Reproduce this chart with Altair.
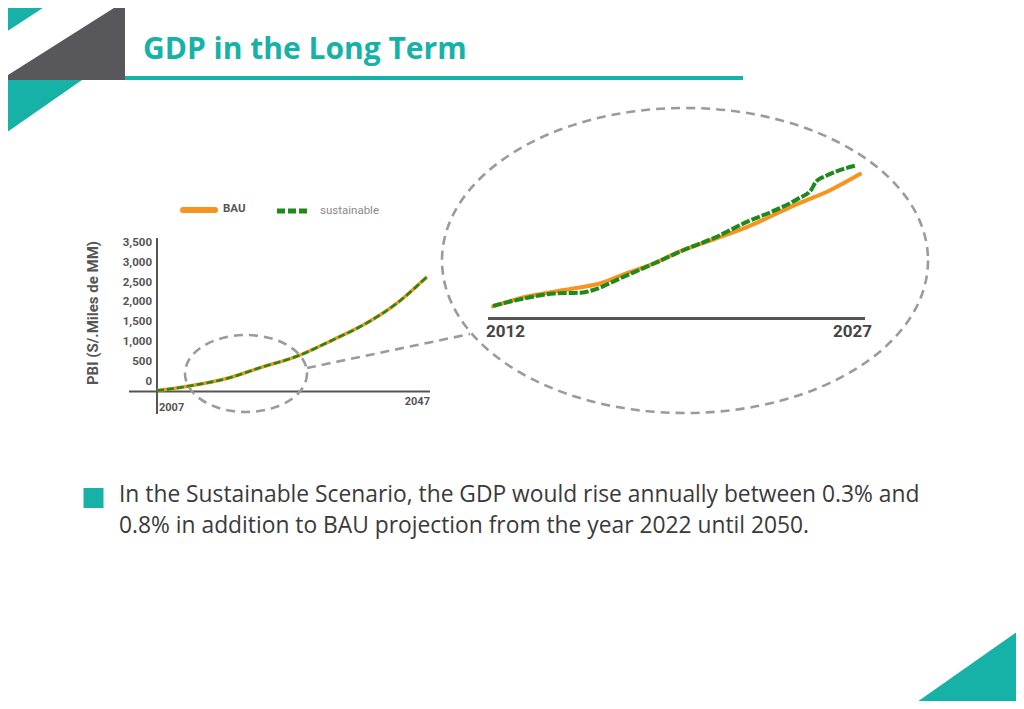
import altair as alt
import pandas as pd

# ---------------- data ----------------
small_years = [2007, 2012, 2018, 2022, 2028, 2033, 2038, 2042.5, 2047]
small_bau = [10, 130, 345, 570, 890, 1280, 1700, 2200, 2870]
small_sus = [10, 130, 345, 570, 890, 1280, 1700, 2200, 2870]

y_ticks = [0, 500, 1000, 1500, 2000, 2500, 3000, 3500]
y_tick_labels = ["0", "500", "1,000", "1,500", "2,000", "2,500", "3,000", "3,500"]

zoom_bau_years = [2012.0, 2013.1, 2014.5, 2015.6, 2016.4, 2017.5, 2018.6, 2019.6,
                  2021.0, 2022.4, 2024.5, 2025.8, 2027.0]
zoom_bau = [150, 196, 233, 258, 281, 340, 394, 459, 528, 600, 732, 808, 898]
zoom_sus_years = [2012.0, 2013.1, 2014.5, 2015.6, 2016.1, 2017.2, 2018.6, 2019.8,
                  2021.0, 2022.4, 2023.7, 2024.5, 2025.0, 2025.2, 2025.6, 2026.2, 2026.8]
zoom_sus = [153, 190, 223, 228, 243, 309, 394, 469, 535, 629, 704, 761, 808, 855, 887,
            921, 945]

title_text = "GDP in the Long Term"
legend_labels = ["BAU", "sustainable"]
y_title = "PBI (S/.Miles de MM)"
body_lines = [
    "In the Sustainable Scenario, the GDP would rise annually between 0.3% and",
    "0.8% in addition to BAU projection from the year 2022 until 2050.",
]

# ---------------- styles ----------------
TEAL = "#17B2A7"
GRAY_TRI = "#58575C"
ORANGE = "#F7941D"
GREEN = "#1E8A1E"
AXIS = "#555555"
DASHGRAY = "#9B9B9B"
W, H = 1008, 693

layers = []


def one(v="x"):
    return pd.DataFrame({"t": [v]})


def text(label, x, y, **kw):
    return alt.Chart(one(label)).mark_text(**kw).encode(
        x=alt.value(x), y=alt.value(y), text="t:N")


def rule(x1, y1, x2, y2, **kw):
    return alt.Chart(one()).mark_rule(**kw).encode(
        x=alt.value(x1), y=alt.value(y1), x2=alt.value(x2), y2=alt.value(y2))


def tri(px, top, bot, color):
    df = pd.DataFrame({"px": px, "top": top, "bot": bot})
    return alt.Chart(df).mark_area(color=color, opacity=1).encode(
        x=alt.X("px:Q", scale=None), y=alt.Y("top:Q", scale=None), y2="bot:Q")


def ellipse(cx, cy, rx, ry):
    r = ry / rx
    k = 0.5523
    p = (f"M1,0 C1,{k*r:.4f} {k},{r:.4f} 0,{r:.4f} "
         f"C{-k},{r:.4f} -1,{k*r:.4f} -1,0 "
         f"C-1,{-k*r:.4f} {-k},{-r:.4f} 0,{-r:.4f} "
         f"C{k},{-r:.4f} 1,{-k*r:.4f} 1,0 Z")
    return alt.Chart(one()).mark_point(
        shape=p, size=(2 * rx) ** 2, filled=False, stroke=DASHGRAY,
        strokeWidth=2.6, strokeDash=[9, 6], opacity=1).encode(
        x=alt.value(cx), y=alt.value(cy))


# ---------------- slide decorations ----------------
layers.append(tri([-8, 47], [-8, -8], [28, -8], TEAL))
layers.append(tri([-8, 117], [72, -7], [72, 72], GRAY_TRI))
layers.append(tri([-8, 74], [72, 72], [129, 72], TEAL))
layers.append(tri([899, 1016], [701, 619], [701, 701], TEAL))

layers.append(text(title_text, 135, 51, font="Open Sans", fontSize=30,
                   fontWeight="bold", color=TEAL, align="left", baseline="alphabetic"))
layers.append(rule(117, 70, 735, 70, color=TEAL, strokeWidth=4))

# ---------------- legend ----------------
layers.append(rule(175, 202, 207, 202, color=ORANGE, strokeWidth=6, strokeCap="round"))
layers.append(text(legend_labels[0], 215, 201, font="Roboto", fontSize=11.5,
                   fontWeight="bold", color=AXIS, align="left", baseline="middle"))
layers.append(rule(269, 203, 299, 203, color=GREEN, strokeWidth=5, strokeDash=[8, 3]))
layers.append(text(legend_labels[1], 312, 203, font="Roboto", fontSize=11.5,
                   color="#8A8A8A", align="left", baseline="middle"))

# ---------------- small chart ----------------
sx = alt.Scale(domain=[2007, 2047], range=[149, 419], nice=False, zero=False)
sy = alt.Scale(domain=[0, 3500], range=[383, 243.7], nice=False, zero=False)

layers.append(text(y_title, 85, 305, font="Roboto", fontSize=15, fontWeight="bold",
                   color=AXIS, angle=270, align="center", baseline="middle"))
layers.append(rule(149, 230, 149, 406, color=AXIS, strokeWidth=2))
layers.append(rule(121, 383.5, 422, 383.5, color=AXIS, strokeWidth=2))

ticks_df = pd.DataFrame({"v": y_ticks, "lab": y_tick_labels})
layers.append(alt.Chart(ticks_df).mark_text(
    font="Roboto", fontSize=11.5, fontWeight="bold", color=AXIS, align="right",
    baseline="middle", dy=-9).encode(
    x=alt.value(144), y=alt.Y("v:Q", scale=sy, axis=None), text="lab:N"))

yr_df = pd.DataFrame({"yr": [small_years[0], small_years[-1]],
                      "lab": [str(small_years[0]), str(small_years[-1])]})
layers.append(alt.Chart(yr_df.iloc[[0]]).mark_text(
    font="Roboto", fontSize=11, fontWeight="bold", color=AXIS, align="left",
    baseline="middle", dx=2).encode(
    x=alt.X("yr:Q", scale=sx, axis=None), y=alt.value(400), text="lab:N"))
layers.append(alt.Chart(yr_df.iloc[[1]]).mark_text(
    font="Roboto", fontSize=11, fontWeight="bold", color=AXIS, align="right",
    baseline="middle", dx=3).encode(
    x=alt.X("yr:Q", scale=sx, axis=None), y=alt.value(394), text="lab:N"))

small_df = pd.DataFrame({"yr": small_years, "bau": small_bau, "sus": small_sus})
layers.append(alt.Chart(small_df).mark_line(
    color=ORANGE, strokeWidth=3.5, interpolate="monotone").encode(
    x=alt.X("yr:Q", scale=sx, axis=None), y=alt.Y("bau:Q", scale=sy, axis=None)))
layers.append(alt.Chart(small_df).mark_line(
    color=GREEN, strokeWidth=2.6, strokeDash=[7, 3], interpolate="monotone").encode(
    x=alt.X("yr:Q", scale=sx, axis=None), y=alt.Y("sus:Q", scale=sy, axis=None)))

# ---------------- callout ----------------
layers.append(ellipse(238, 365.5, 61, 38.5))
layers.append(rule(299, 360, 462, 326, color=DASHGRAY, strokeWidth=2.6, strokeDash=[9, 6]))
layers.append(ellipse(677, 252.5, 243, 152.5))

# ---------------- zoom chart ----------------
zx = alt.Scale(domain=[2012, 2027], range=[485, 852], nice=False, zero=False)
zy = alt.Scale(domain=[0, 1000], range=[325, 148], nice=False, zero=False)

layers.append(rule(480, 310.5, 857, 310.5, color=AXIS, strokeWidth=3))
zl_df = pd.DataFrame({"yr": [2012, 2027], "lab": ["2012", "2027"]})
layers.append(alt.Chart(zl_df.iloc[[0]]).mark_text(
    font="Roboto", fontSize=17, fontWeight="bold", color="#444444", align="left",
    baseline="middle", dx=-7).encode(
    x=alt.X("yr:Q", scale=zx, axis=None), y=alt.value(324), text="lab:N"))
layers.append(alt.Chart(zl_df.iloc[[1]]).mark_text(
    font="Roboto", fontSize=17, fontWeight="bold", color="#444444", align="right",
    baseline="middle", dx=12).encode(
    x=alt.X("yr:Q", scale=zx, axis=None), y=alt.value(324), text="lab:N"))

zb_df = pd.DataFrame({"yr": zoom_bau_years, "v": zoom_bau})
zs_df = pd.DataFrame({"yr": zoom_sus_years, "v": zoom_sus})
layers.append(alt.Chart(zb_df).mark_line(
    color=ORANGE, strokeWidth=4, interpolate="monotone", strokeCap="round").encode(
    x=alt.X("yr:Q", scale=zx, axis=None), y=alt.Y("v:Q", scale=zy, axis=None)))
layers.append(alt.Chart(zs_df).mark_line(
    color=GREEN, strokeWidth=4, strokeDash=[9, 2], interpolate="monotone").encode(
    x=alt.X("yr:Q", scale=zx, axis=None), y=alt.Y("v:Q", scale=zy, axis=None)))

# ---------------- bullet text ----------------
layers.append(alt.Chart(one()).mark_square(
    color=TEAL, size=400, opacity=1).encode(x=alt.value(85.5), y=alt.value(490)))
for i, line in enumerate(body_lines):
    layers.append(text(line, 111, 487 + 31 * i, font="Open Sans", fontSize=22.8,
                       color="#3A3A3A", align="left", baseline="middle"))

chart = alt.layer(*layers).resolve_scale(x="independent", y="independent").properties(
    width=W, height=H, padding=0, autosize=alt.AutoSizeParams(type="none"),
    background="white",
).configure_view(strokeWidth=0)

chart.save("out.html", embed_options={"renderer": "svg", "actions": False})
